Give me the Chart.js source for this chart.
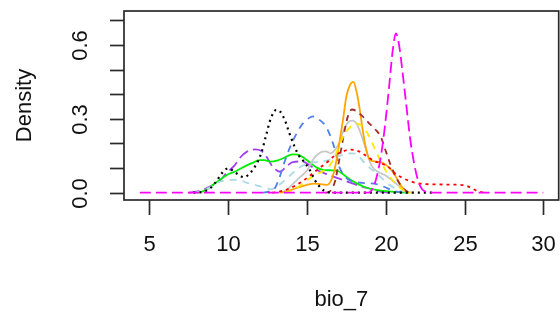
<!DOCTYPE html>
<html><head><meta charset="utf-8">
<script src="https://cdn.jsdelivr.net/npm/chart.js@4/dist/chart.umd.min.js"></script>
<style>html,body{margin:0;padding:0;background:#fff}canvas{display:block}</style>
</head><body>
<canvas id="c" width="560" height="320"></canvas>
<script>
// ---- data ----
const xTicks = [5, 10, 15, 20, 25, 30];
const yTicks = [0, 0.1, 0.2, 0.3, 0.4, 0.5, 0.6, 0.7];
const yTickLabels = ['0.0', '', '', '0.3', '', '', '0.6', ''];
const xTitle = 'bio_7';
const yTitle = 'Density';

const magenta = [[4.4,0],[18.9,0],[19.2,0.02],[19.45,0.07],[19.7,0.15],[19.95,0.27],[20.2,0.42],[20.45,0.58],[20.65,0.647],[20.85,0.6],[21.05,0.5],[21.3,0.36],[21.55,0.22],[21.8,0.12],[22.05,0.05],[22.3,0.015],[22.6,0.003],[23,0],[30,0]];
const black = [[7.8,0],[8.4,0.004],[8.9,0.02],[9.3,0.05],[9.6,0.079],[10.0,0.099],[10.5,0.08],[11.0,0.063],[11.4,0.08],[11.7,0.106],[12.1,0.16],[12.4,0.23],[12.7,0.3],[13.05,0.336],[13.3,0.33],[13.6,0.295],[13.9,0.24],[14.2,0.19],[14.5,0.15],[14.9,0.119],[15.2,0.09],[15.5,0.052],[15.9,0.018],[16.3,0.002],[16.8,0],[23,0]];
const purple = [[7.5,0],[8.0,0.004],[8.4,0.012],[9.0,0.03],[9.5,0.05],[9.9,0.08],[10.4,0.11],[10.8,0.145],[11.2,0.167],[11.7,0.176],[12.1,0.17],[12.4,0.15],[12.8,0.108],[13.3,0.085],[13.6,0.1],[14.1,0.124],[14.7,0.127],[15.2,0.11],[15.7,0.09],[16.4,0.072],[17.0,0.058],[17.7,0.042],[18.4,0.026],[19.0,0.016],[19.5,0.006],[20,0.001],[20.5,0]];
const green = [[8.0,0],[8.4,0.005],[8.8,0.02],[9.1,0.035],[9.6,0.058],[10.0,0.075],[10.4,0.085],[11.0,0.105],[11.5,0.12],[12.0,0.132],[12.3,0.132],[12.7,0.126],[13.1,0.13],[13.5,0.14],[14.1,0.156],[14.4,0.155],[14.8,0.142],[15.2,0.122],[15.6,0.103],[16.1,0.092],[16.6,0.091],[17.0,0.087],[17.3,0.075],[17.6,0.06],[18.1,0.04],[18.7,0.022],[19.3,0.012],[20,0.006],[20.8,0.002],[21.5,0]];
const lightblue = [[7.8,0],[8.3,0.005],[8.8,0.02],[9.3,0.04],[9.8,0.05],[10.4,0.052],[10.8,0.05],[11.2,0.04],[11.8,0.03],[12.3,0.02],[12.7,0.014],[13.1,0.025],[13.5,0.045],[13.9,0.068],[14.4,0.097],[14.9,0.115],[15.5,0.124],[16.0,0.128],[16.5,0.135],[17.0,0.148],[17.5,0.158],[17.9,0.16],[18.2,0.155],[18.6,0.125],[19.0,0.1],[19.4,0.08],[19.9,0.05],[20.4,0.025],[20.8,0.012],[21.3,0.003],[21.8,0]];
const blue = [[12.2,0],[12.6,0.004],[12.9,0.012],[13.2,0.05],[13.5,0.11],[13.9,0.18],[14.3,0.235],[14.7,0.278],[15.1,0.302],[15.4,0.31],[15.8,0.296],[16.2,0.27],[16.5,0.228],[16.8,0.17],[17.0,0.115],[17.3,0.075],[17.6,0.055],[18.0,0.045],[18.5,0.04],[19.0,0.038],[19.4,0.035],[19.9,0.024],[20.4,0.01],[20.9,0.002],[21.3,0]];
const grey = [[13.2,0],[13.7,0.01],[14.1,0.035],[14.6,0.065],[15.0,0.09],[15.4,0.135],[15.9,0.165],[16.2,0.168],[16.5,0.16],[16.8,0.175],[17.1,0.21],[17.4,0.265],[17.7,0.29],[17.9,0.293],[18.2,0.275],[18.5,0.225],[18.8,0.165],[19.1,0.11],[19.5,0.085],[20.0,0.07],[20.4,0.05],[20.9,0.025],[21.3,0.006],[21.7,0]];
const orange = [[13.3,0],[13.7,0.004],[14.3,0.018],[14.9,0.03],[15.5,0.037],[16.0,0.034],[16.3,0.032],[16.5,0.045],[16.7,0.08],[16.9,0.14],[17.1,0.22],[17.3,0.3],[17.5,0.39],[17.75,0.44],[17.95,0.45],[18.15,0.41],[18.35,0.34],[18.55,0.25],[18.75,0.18],[18.95,0.138],[19.2,0.128],[19.6,0.125],[19.9,0.118],[20.3,0.097],[20.6,0.07],[20.9,0.035],[21.2,0.01],[21.5,0]];
const brown = [[16.2,0],[16.5,0.008],[16.8,0.05],[17.0,0.115],[17.2,0.185],[17.4,0.255],[17.6,0.31],[17.85,0.338],[18.1,0.333],[18.5,0.312],[18.9,0.285],[19.3,0.26],[19.7,0.225],[20.0,0.17],[20.3,0.115],[20.6,0.07],[20.9,0.035],[21.2,0.012],[21.5,0]];
const yellow = [[13.6,0],[14.1,0.01],[14.6,0.03],[15.1,0.055],[15.6,0.075],[16.1,0.09],[16.5,0.115],[16.8,0.15],[17.1,0.2],[17.4,0.238],[17.8,0.27],[18.15,0.282],[18.5,0.27],[18.9,0.235],[19.3,0.18],[19.7,0.125],[20.1,0.08],[20.5,0.045],[20.9,0.02],[21.3,0.005],[21.7,0]];
const red = [[12.8,0],[13.3,0.005],[13.8,0.015],[14.3,0.03],[14.8,0.05],[15.3,0.075],[15.8,0.1],[16.3,0.125],[16.8,0.152],[17.3,0.168],[17.8,0.175],[18.3,0.168],[18.8,0.148],[19.3,0.128],[19.8,0.117],[20.2,0.103],[20.6,0.078],[21.0,0.062],[21.5,0.048],[22.0,0.039],[22.5,0.035],[23.0,0.034],[24.0,0.033],[24.7,0.032],[25.1,0.028],[25.4,0.02],[25.8,0.007],[26.2,0]];

// ---- styles ----
const seriesList = [
  {data: magenta,   color: '#FF00FF', dash: [11, 5], width: 1.8},
  {data: black,     color: '#000000', dash: [2, 4],  width: 2.2},
  {data: red,       color: '#FF0000', dash: [3, 4],  width: 1.8},
  {data: yellow,    color: '#FFE800', dash: [7, 6],  width: 1.8},
  {data: brown,     color: '#A52A2A', dash: [6, 5],  width: 1.8},
  {data: orange,    color: '#FFA500', dash: [],      width: 1.8},
  {data: grey,      color: '#C8C8C8', dash: [],      width: 1.8},
  {data: blue,      color: '#4F7FE8', dash: [7, 6],  width: 1.8},
  {data: lightblue, color: '#ADD8E6', dash: [7, 6],  width: 1.8},
  {data: green,     color: '#00EE00', dash: [],      width: 1.8},
  {data: purple,    color: '#A040F0', dash: [11, 5], width: 1.8}
];

const FONT = "22px 'Liberation Sans', Arial, sans-serif";
const AXIS = '#2a2a2a';

const rAxes = {
  id: 'rAxes',
  afterDraw(chart) {
    const {ctx, chartArea: a, scales: {x, y}} = chart;
    ctx.save();
    ctx.strokeStyle = AXIS;
    ctx.lineWidth = 1.7;
    ctx.strokeRect(a.left, a.top, a.right - a.left, a.bottom - a.top);
    ctx.fillStyle = '#111';
    ctx.font = FONT;
    ctx.textAlign = 'center';
    ctx.textBaseline = 'middle';
    xTicks.forEach(v => {
      const px = Math.round(x.getPixelForValue(v)) + 0.5;
      ctx.beginPath(); ctx.moveTo(px, a.bottom); ctx.lineTo(px, a.bottom + 15); ctx.stroke();
      ctx.fillText(String(v), px, 245);
    });
    yTicks.forEach((v, i) => {
      const py = Math.round(y.getPixelForValue(v)) + 0.5;
      ctx.beginPath(); ctx.moveTo(a.left, py); ctx.lineTo(a.left - 14, py); ctx.stroke();
      if (yTickLabels[i]) {
        ctx.save(); ctx.translate(81, py); ctx.rotate(-Math.PI / 2);
        ctx.fillText(yTickLabels[i], 0, 0); ctx.restore();
      }
    });
    ctx.fillText(xTitle, (a.left + a.right) / 2, 300);
    ctx.save(); ctx.translate(25, (a.top + a.bottom) / 2); ctx.rotate(-Math.PI / 2);
    ctx.fillText(yTitle, 0, 0); ctx.restore();
    ctx.restore();
  }
};

new Chart(document.getElementById('c'), {
  type: 'line',
  data: {
    datasets: seriesList.map(s => ({
      data: s.data.map(p => ({x: p[0], y: p[1]})),
      borderColor: s.color,
      borderDash: s.dash,
      borderWidth: s.width,
      pointRadius: 0,
      fill: false,
      cubicInterpolationMode: 'monotone'
    }))
  },
  options: {
    responsive: false,
    devicePixelRatio: 1,
    animation: false,
    layout: {padding: {left: 124, right: 1.3, top: 11, bottom: 120}},
    plugins: {legend: {display: false}, tooltip: {enabled: false}},
    scales: {
      x: {type: 'linear', display: false, min: 3.395, max: 30.977},
      y: {type: 'linear', display: false, min: -0.0297, max: 0.7383}
    }
  },
  plugins: [rAxes]
});
</script>
</body></html>
